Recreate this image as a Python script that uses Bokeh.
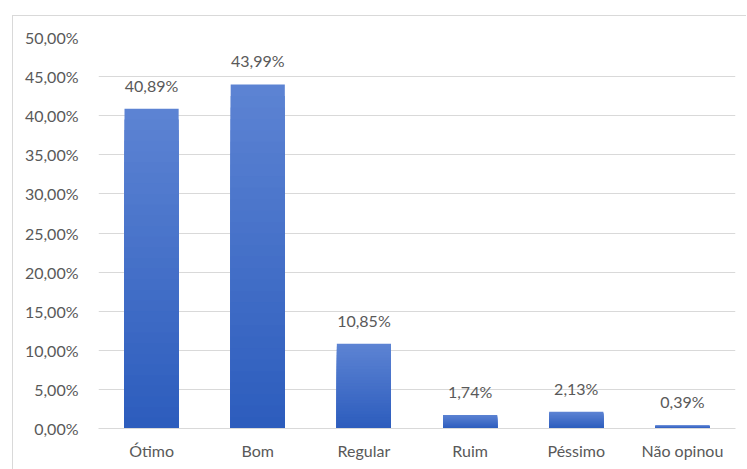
from bokeh.plotting import figure
from bokeh.models import FixedTicker, ColumnDataSource
from bokeh.embed import file_html
from bokeh.resources import INLINE
from bokeh.core.properties import value

categories = ["Ótimo", "Bom", "Regular", "Ruim", "Péssimo", "Não opinou"]
values = [40.89, 43.99, 10.85, 1.74, 2.13, 0.39]
value_labels = ["40,89%", "43,99%", "10,85%", "1,74%", "2,13%", "0,39%"]
y_ticks = [0, 5, 10, 15, 20, 25, 30, 35, 40, 45, 50]
y_tick_labels = ["0,00%", "5,00%", "10,00%", "15,00%", "20,00%", "25,00%",
                 "30,00%", "35,00%", "40,00%", "45,00%", "50,00%"]

FONT = "Lato"
TXT = "#595959"
GRID = "#d9d9d9"
FS = "16px"

p = figure(x_range=categories, y_range=(0, 50), width=734, height=454,
           output_backend="svg", toolbar_location=None,
           min_border_left=85, min_border_right=12, min_border_top=21, min_border_bottom=42,
           styles={"margin-left": "12px", "margin-top": "15px",
                   "border-left": "1px solid #d9d9d9", "border-top": "1px solid #d9d9d9"})
p.outline_line_color = None
p.background_fill_color = "white"
p.border_fill_color = "white"

# gradient-like bars: layered bars, light at top to dark at bottom
top_c = (0x5c, 0x83, 0xd3)
bot_c = (0x2d, 0x5d, 0xbd)
N = 30
for k in range(N):
    t = k / (N - 1)
    c = tuple(int(round(top_c[i] + (bot_c[i] - top_c[i]) * t)) for i in range(3))
    col = "#%02x%02x%02x" % c
    frac = 1 - k / N
    src = ColumnDataSource(dict(x=categories, top=[v * frac for v in values]))
    p.vbar(x="x", top="top", width=0.51, source=src, fill_color=col, line_color=None)

lab = ColumnDataSource(dict(x=categories, y=values, t=value_labels))
p.text(x="x", y="y", text="t", source=lab, text_align="center", text_baseline="bottom",
       y_offset=-14, text_font=value(FONT), text_font_size=FS, text_color=TXT)

p.yaxis.ticker = FixedTicker(ticks=y_ticks)
p.yaxis.major_label_overrides = {t: l for t, l in zip(y_ticks, y_tick_labels)}
p.yaxis.axis_line_color = None
p.yaxis.major_tick_line_color = None
p.yaxis.minor_tick_line_color = None
p.yaxis.major_label_text_font = FONT
p.yaxis.major_label_text_font_size = FS
p.yaxis.major_label_text_color = TXT
p.yaxis.major_label_standoff = 14

p.xaxis.axis_line_color = GRID
p.xaxis.axis_line_width = 1
p.xaxis.major_tick_line_color = None
p.xaxis.minor_tick_line_color = None
p.xaxis.major_label_text_font = FONT
p.xaxis.major_label_text_font_size = FS
p.xaxis.major_label_text_color = TXT
p.xaxis.major_label_standoff = 6

p.xgrid.grid_line_color = None
p.ygrid.grid_line_color = GRID
p.ygrid.grid_line_width = 1
p.x_range.range_padding = 0

open("out.html", "w").write(file_html(p, INLINE))
